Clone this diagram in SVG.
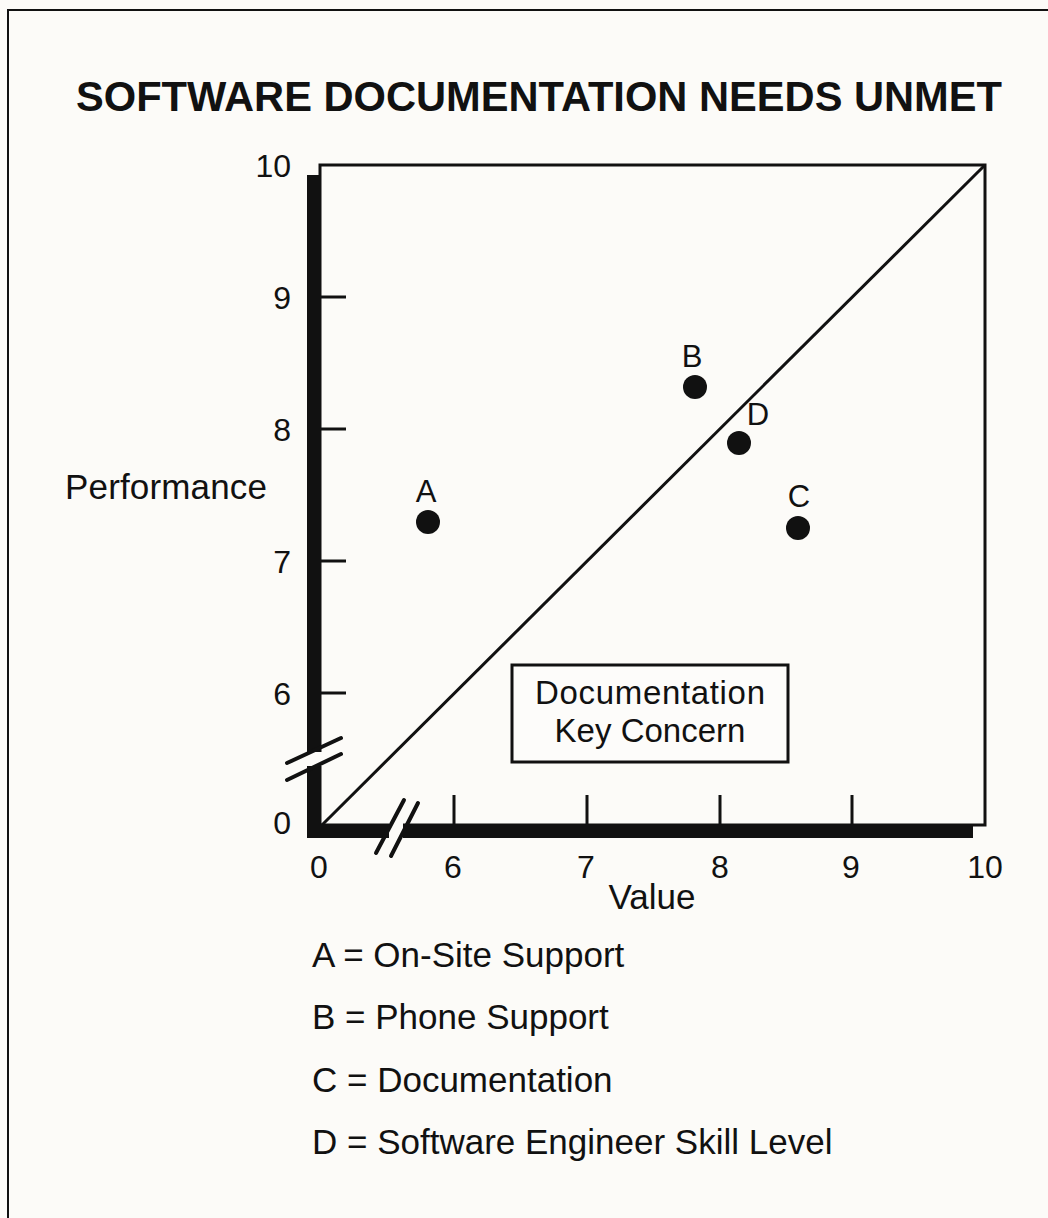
<svg xmlns="http://www.w3.org/2000/svg" width="1048" height="1218" viewBox="0 0 1048 1218">
  <style>
    text { font-family: "Liberation Sans", Arial, sans-serif; fill: #111; }
    .title { font-size: 42px; font-weight: bold; }
    .tick { font-size: 32px; }
    .lbl { font-size: 35px; }
    .box { font-size: 33px; text-anchor: middle; }
    .pt { font-size: 31px; text-anchor: middle; }
    .thin { stroke: #111; stroke-width: 3; fill: none; }
    .axis { fill: #111; }
    .brk { stroke: #111; stroke-width: 4; stroke-linecap: round; }
    .dot { fill: #111; }
  </style>
  <rect width="1048" height="1218" fill="#fcfbf8"/>
  <!-- page frame (left and top edges) -->
  <path d="M8 1218 V10 H1048" stroke="#111" stroke-width="2" fill="none"/>

  <text class="title" x="76" y="111" textLength="926" lengthAdjust="spacingAndGlyphs">SOFTWARE DOCUMENTATION NEEDS UNMET</text>

  <!-- plot area -->
  <g id="plot-frame">
    <rect class="thin" x="320" y="165" width="665" height="660"/>
    <rect class="axis" x="307" y="175" width="14" height="663"/>
    <rect class="axis" x="307" y="824" width="666" height="14"/>
  </g>

  <g id="ticks" stroke="#111" stroke-width="3">
    <line x1="320" y1="297" x2="346" y2="297"/>
    <line x1="320" y1="429" x2="346" y2="429"/>
    <line x1="320" y1="561" x2="346" y2="561"/>
    <line x1="320" y1="693" x2="346" y2="693"/>
    <line x1="454" y1="795" x2="454" y2="825"/>
    <line x1="587" y1="795" x2="587" y2="825"/>
    <line x1="720" y1="795" x2="720" y2="825"/>
    <line x1="852" y1="795" x2="852" y2="825"/>
  </g>

  <!-- axis breaks -->
  <g id="breaks">
    <rect x="300" y="752" width="28" height="14" fill="#fcfbf8"/>
    <line class="brk" x1="287" y1="763" x2="341" y2="738"/>
    <line class="brk" x1="287" y1="780" x2="341" y2="754"/>
    <rect x="389" y="818" width="14" height="26" fill="#fcfbf8"/>
    <line class="brk" x1="376" y1="853" x2="404" y2="800"/>
    <line class="brk" x1="391" y1="856" x2="418" y2="803"/>
  </g>

  <g id="connectors">
    <line x1="322" y1="825" x2="985" y2="165" stroke="#111" stroke-width="3"/>
  </g>

  <g id="tick-labels" class="tick">
    <text x="291" y="177" text-anchor="end">10</text>
    <text x="291" y="309" text-anchor="end">9</text>
    <text x="291" y="441" text-anchor="end">8</text>
    <text x="291" y="573" text-anchor="end">7</text>
    <text x="291" y="705" text-anchor="end">6</text>
    <text x="291" y="834" text-anchor="end">0</text>
    <text x="319" y="878" text-anchor="middle">0</text>
    <text x="453" y="878" text-anchor="middle">6</text>
    <text x="586" y="878" text-anchor="middle">7</text>
    <text x="720" y="878" text-anchor="middle">8</text>
    <text x="851" y="878" text-anchor="middle">9</text>
    <text x="985" y="878" text-anchor="middle">10</text>
  </g>

  <text class="lbl" x="65" y="499" textLength="202" lengthAdjust="spacing">Performance</text>
  <text class="lbl" x="652" y="909" text-anchor="middle">Value</text>

  <g id="point-A">
    <circle class="dot" cx="428" cy="522" r="12"/>
    <text class="pt" x="426" y="502">A</text>
  </g>
  <g id="point-B">
    <circle class="dot" cx="695" cy="387" r="12"/>
    <text class="pt" x="692" y="367">B</text>
  </g>
  <g id="point-D">
    <circle class="dot" cx="739" cy="443" r="12"/>
    <text class="pt" x="758" y="425">D</text>
  </g>
  <g id="point-C">
    <circle class="dot" cx="798" cy="528" r="12"/>
    <text class="pt" x="799" y="507">C</text>
  </g>

  <g id="key-concern">
    <rect x="512" y="665" width="276" height="97" fill="#fdfcfa" stroke="#111" stroke-width="3"/>
    <text class="box" x="650" y="704" textLength="230" lengthAdjust="spacing">Documentation</text>
    <text class="box" x="650" y="742">Key Concern</text>
  </g>

  <g id="legend" class="lbl">
    <text x="312" y="967">A = On-Site Support</text>
    <text x="312" y="1029">B = Phone Support</text>
    <text x="312" y="1092">C = Documentation</text>
    <text x="312" y="1154">D = Software Engineer Skill Level</text>
  </g>
</svg>
